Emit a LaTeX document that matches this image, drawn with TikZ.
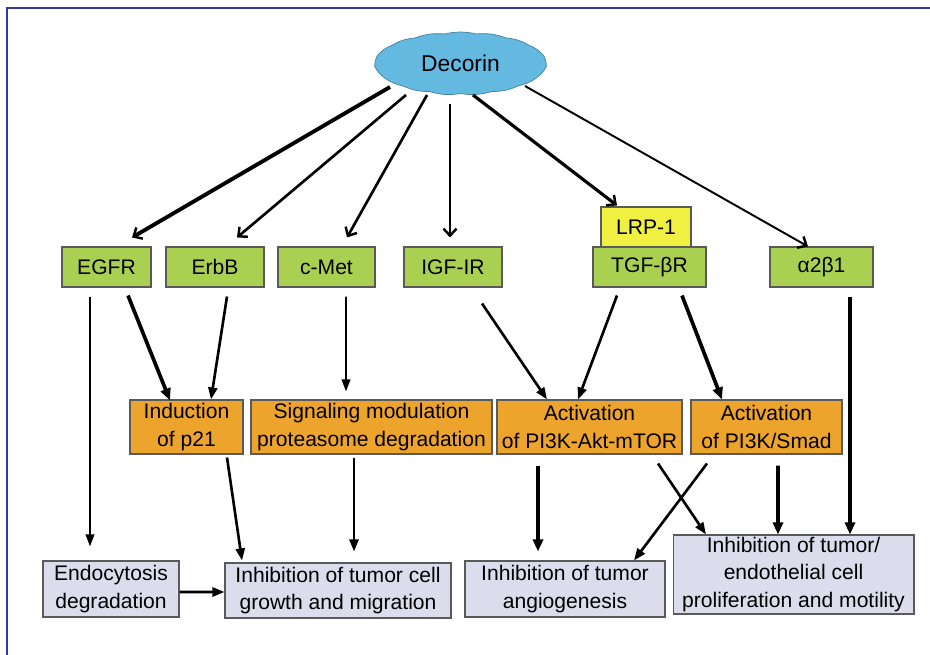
\documentclass[tikz,border=0pt]{standalone}
\usepackage{fontspec}
\setmainfont{Liberation Sans}
\usepackage{tikz}
\usetikzlibrary{positioning, calc, shapes.symbols, arrows.meta}

\definecolor{frameblue}{RGB}{50,60,160}
\definecolor{cloudblue}{RGB}{100,185,225}
\definecolor{recgreen}{RGB}{170,208,82}
\definecolor{lrpyellow}{RGB}{240,240,66}
\definecolor{sigorange}{RGB}{236,164,44}
\definecolor{outlav}{RGB}{220,220,236}
\definecolor{edgegray}{RGB}{90,90,90}

\tikzset{
    boxbase/.style={draw=edgegray, line width=0.6pt, inner sep=0pt, align=center,
        font=\fontsize{12}{15.5}\selectfont},
    receptor/.style={boxbase, fill=recgreen, minimum height=0.8cm},
    coreceptor/.style={boxbase, fill=lrpyellow, minimum height=0.8cm},
    pathway/.style={boxbase, fill=sigorange, minimum height=1.08cm},
    outcome/.style={boxbase, fill=outlav},
    thinarr/.style={line width=1.1pt, -{Triangle[length=0.24cm,width=0.17cm]}},
    midarr/.style={line width=1.5pt, -{Triangle[length=0.24cm,width=0.18cm]}},
    boldarr/.style={line width=2.1pt, -{Triangle[length=0.24cm,width=0.2cm]}},
    barb/.style={-{Straight Barb[length=0.14cm,width=0.26cm,line width=1.4pt]}}
}

\begin{document}
\begin{tikzpicture}[x=0.02cm, y=-0.02cm]
        \useasboundingbox (0,0) rectangle (930,655);

        % Frame of the slide
        \draw[frameblue, line width=1.1pt] (7,655) -- (7,8) -- (930,8);

        % Decorin
        \node[cloud, cloud puffs=17, cloud puff arc=28, aspect=2.7, fill=cloudblue,
            draw=cloudblue!70!black, line width=0.4pt, inner sep=0pt,
            minimum width=3.42cm, minimum height=1.26cm,
            font=\fontsize{13}{15}\selectfont] (decorin) at (460.5,63.5) {Decorin};

        % Receptors
        \node[receptor, minimum width=1.78cm] (egfr) at (106.5,267) {EGFR};
        \node[receptor, minimum width=1.96cm] (erbb) at (215,267) {ErbB};
        \node[receptor, minimum width=1.94cm] (cmet) at (326.5,267) {c-Met};
        \node[receptor, minimum width=1.96cm] (igfr) at (453,267) {IGF-IR};
        \node[receptor, minimum width=2.26cm] (tgfr) at (649.5,267) {TGF-βR};
        \node[receptor, minimum width=2.06cm] (integrin) at (821.5,267) {α2β1};
        \node[coreceptor, minimum width=1.8cm] (lrp) at (646,227) {LRP-1};

        % Signaling events
        \node[pathway, minimum width=2.26cm] (ptwo) at (186.5,427) {Induction\\of p21};
        \node[pathway, minimum width=4.82cm] (sigmod) at (371.5,427) {Signaling modulation\\proteasome degradation};
        \node[pathway, minimum width=3.7cm] (mtor) at (589.5,427) {Activation\\of PI3K-Akt-mTOR};
        \node[pathway, minimum width=3.02cm] (smad) at (766.5,427) {Activation\\of PI3K/Smad};

        % Outcomes
        \node[outcome, minimum width=2.72cm, minimum height=1.12cm] (endo) at (111,589) {Endocytosis\\degradation};
        \node[outcome, minimum width=4.52cm, minimum height=1.1cm] (growth) at (338,590.5) {Inhibition of tumor cell\\growth and migration};
        \node[outcome, minimum width=4.0cm, minimum height=1.12cm] (angio) at (565,589) {Inhibition of tumor\\angiogenesis};
        \node[outcome, minimum width=4.82cm, minimum height=1.58cm] (prolif) at (793.5,574.5) {Inhibition of tumor/\\endothelial cell\\proliferation and motility};

        % Decorin binds its receptors
        \draw[line width=2.2pt, barb] ($(decorin.center)+(-70.5,23.5)$) -- ($(egfr.north)+(25.5,-9)$);
        \draw[line width=1.5pt, barb] ($(decorin.center)+(-54.5,31.5)$) -- ($(erbb.north)+(22,-9)$);
        \draw[line width=1.5pt, barb] ($(decorin.center)+(-33.5,31.5)$) -- ($(cmet.north)+(20.5,-9)$);
        \draw[line width=1.1pt, barb] ($(decorin.center)+(-10.5,40.5)$) -- ($(igfr.north)+(-3,-9)$);
        \draw[line width=1.8pt, barb] ($(decorin.center)+(12.5,31.5)$) -- ($(lrp.north)+(-29,-1)$);
        \draw[line width=1.1pt, barb] ($(decorin.center)+(64.5,22.5)$) -- ($(integrin.north)+(-13.5,0)$);

        % Receptors to signaling
        \draw[thinarr] ($(egfr.south)+(-16.5,9)$) -- ($(endo.north)+(-21,-14)$);
        \draw[boldarr] ($(egfr.south)+(21.5,8)$) -- ($(ptwo.north)+(-16.5,1)$);
        \draw[midarr] ($(erbb.south)+(12,9)$) -- ($(ptwo.north)+(24.5,0)$);
        \draw[thinarr] ($(cmet.south)+(19.5,9)$) -- ($(sigmod.north)+(-25.5,-8)$);
        \draw[midarr] ($(igfr.south)+(29,16)$) -- ($(mtor.north)+(-42.5,0)$);
        \draw[midarr] ($(tgfr.south)+(-32.5,8)$) -- ($(mtor.north)+(-11.5,0)$);
        \draw[boldarr] ($(tgfr.south)+(32.5,8)$) -- ($(smad.north)+(-44.5,0)$);
        \draw[boldarr] ($(integrin.south)+(28.5,9)$) -- ($(prolif.north)+(56.5,0)$);

        % Signaling to outcomes
        \draw[midarr] ($(ptwo.south)+(40.5,3)$) -- ($(growth.north)+(-96,-2)$);
        \draw[midarr] ($(sigmod.south)+(-17.5,3)$) -- ($(growth.north)+(16,-11)$);
        \draw[midarr] ($(endo.east)+(0,3)$) -- ($(growth.west)+(0,1.5)$);
        \draw[boldarr] ($(mtor.south)+(-51.5,11)$) -- ($(angio.north)+(-27,-9)$);
        \draw[midarr] ($(mtor.south)+(68.5,9)$) -- ($(prolif.north)+(-87.5,0)$);
        \draw[midarr] ($(smad.south)+(-59.5,9)$) -- ($(angio.north)+(69,0)$);
        \draw[boldarr] ($(smad.south)+(11.5,11)$) -- ($(prolif.north)+(-15.5,0)$);

    \end{tikzpicture}
\end{document}
